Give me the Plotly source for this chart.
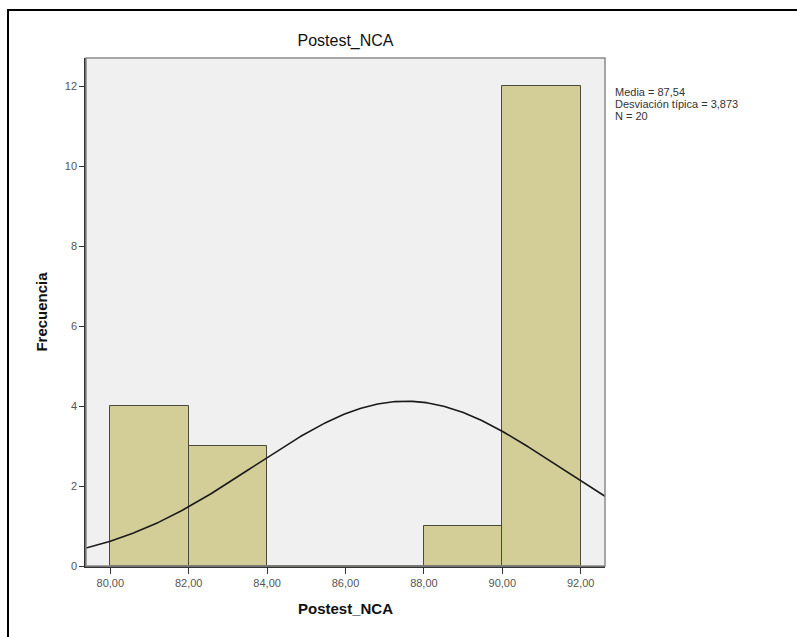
import numpy as np
import plotly.graph_objects as go

# Data
bin_left = [80, 82, 84, 86, 88, 90]
bin_width = 2
counts = [4, 3, 0, 0, 1, 12]
mean = 87.54
sd = 3.873
n = 20
x_tick_vals = [80, 82, 84, 86, 88, 90, 92]
x_tick_text = ["80,00", "82,00", "84,00", "86,00", "88,00", "90,00", "92,00"]
y_tick_vals = [0, 2, 4, 6, 8, 10, 12]
stats_text = ["Media = 87,54", "Desviación típica = 3,873", "N = 20"]

x_range = [79.38, 92.62]
y_range = [0, 12.7]

centers = [b + bin_width / 2 for b in bin_left]

xs = np.linspace(x_range[0], x_range[1], 300)
ys = n * bin_width / (sd * np.sqrt(2 * np.pi)) * np.exp(-0.5 * ((xs - mean) / sd) ** 2)

fig = go.Figure()
fig.add_trace(go.Bar(
    x=centers, y=counts, width=[bin_width] * len(centers),
    marker=dict(color="#d3ce98", line=dict(color="#4a4a3c", width=1)),
    hoverinfo="x+y",
))
fig.add_trace(go.Scatter(
    x=xs, y=ys, mode="lines", line=dict(color="#1a1a1a", width=1.6),
    hoverinfo="skip",
))

font = "Liberation Sans, Arial, sans-serif"

fig.update_layout(
    width=797, height=637,
    margin=dict(l=86, r=192, t=58, b=71, autoexpand=False),
    paper_bgcolor="white", plot_bgcolor="#f0f0f0",
    showlegend=False,
    bargap=0,
    font=dict(family=font, color="#444444", size=11),
    title=dict(text="Postest_NCA", x=(86 + 605) / 2 / 797, xanchor="center",
               y=1 - 40 / 637, yanchor="middle",
               font=dict(family=font, size=16, color="#111111")),
    xaxis=dict(
        range=x_range, tickvals=x_tick_vals, ticktext=x_tick_text,
        ticks="outside", ticklen=6, tickcolor="#333333", tickwidth=1,
        showline=True, linecolor="#333333", linewidth=1.5,
        showgrid=False, zeroline=False, automargin=False,
        tickfont=dict(family=font, size=11, color="#555555"),
        title=dict(text="<b>Postest_NCA</b>", standoff=16,
                   font=dict(family=font, size=15, color="#111111")),
    ),
    yaxis=dict(
        range=y_range, tickvals=y_tick_vals,
        ticks="outside", ticklen=5, tickcolor="#333333", tickwidth=1,
        showline=True, linecolor="#333333", linewidth=1.5,
        showgrid=False, zeroline=False, automargin=False,
        tickfont=dict(family=font, size=11, color="#555555"),
        title=dict(text="<b>Frecuencia</b>", standoff=14,
                   font=dict(family=font, size=15, color="#111111")),
    ),
)

# plot border (gray)
fig.add_shape(type="rect", xref="paper", yref="paper", x0=0, x1=1, y0=0, y1=1,
              line=dict(color="#8a8a8a", width=1.5), layer="above")
# outer frame (black), left & top visible
fig.add_shape(type="rect", xref="paper", yref="paper",
              x0=(8 - 86) / 519, x1=1.45, y0=-0.25, y1=(566 - 10) / 508,
              line=dict(color="#000000", width=2), layer="above")

for i, t in enumerate(stats_text):
    fig.add_annotation(
        xref="paper", yref="paper",
        x=(613 - 86) / 519, y=(566 - (92 + 12 * i)) / 508,
        text=t, showarrow=False, xanchor="left", yanchor="middle",
        font=dict(family=font, size=11, color="#333333"),
    )

fig.write_html("out.html",
               config={"displayModeBar": False},
               post_script="document.body.style.margin='0';document.body.style.overflow='hidden';")
